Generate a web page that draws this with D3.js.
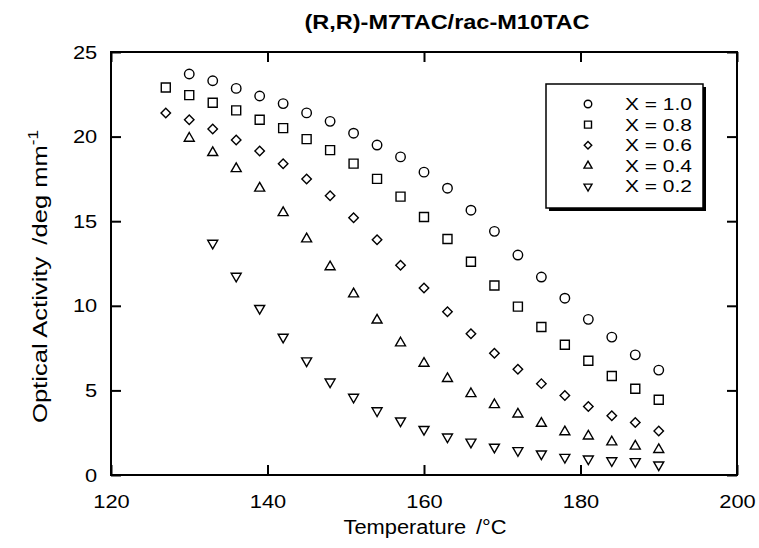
<!DOCTYPE html>
<html lang="en">
  <head>
    <meta charset="UTF-8" />
    <title>M7TAC optical activity</title>
    <style>
      body {
        margin: 0;
        background: #fff;
        font-family: "Liberation Sans", Helvetica, Arial, sans-serif;
      }
      svg {
        display: block;
      }
      .tick text {
        font-size: 19px;
        fill: #000;
      }
      .tick line {
        stroke: #000;
        stroke-width: 2;
      }
      .mark {
        fill: #fff;
        stroke: #000;
        stroke-width: 1.4;
      }
    </style>
  </head>
  <body>
    <script src="https://cdn.jsdelivr.net/npm/d3@7"></script>
    <script>
      // temperatures (°C) shared by all series; null = no point measured
      const temperature = [127, 130, 133, 136, 139, 142, 145, 148, 151, 154, 157,
        160, 163, 166, 169, 172, 175, 178, 181, 184, 187, 190];

      const x10 = [null, 23.7, 23.3, 22.85, 22.4, 21.95, 21.4, 20.9, 20.2, 19.5, 18.8,
        17.9, 16.95, 15.65, 14.4, 13.0, 11.7, 10.45, 9.2, 8.15, 7.1, 6.2];
      const x08 = [22.9, 22.45, 22.0, 21.55, 21.0, 20.5, 19.85, 19.2, 18.4, 17.5, 16.45,
        15.25, 13.95, 12.6, 11.2, 9.95, 8.75, 7.7, 6.75, 5.85, 5.1, 4.45];
      const x06 = [21.4, 21.0, 20.45, 19.8, 19.15, 18.4, 17.5, 16.5, 15.2, 13.9, 12.4,
        11.05, 9.65, 8.35, 7.2, 6.25, 5.4, 4.7, 4.05, 3.5, 3.1, 2.6];
      const x04 = [null, 19.9, 19.05, 18.1, 16.95, 15.5, 13.95, 12.3, 10.7, 9.15, 7.8,
        6.6, 5.7, 4.8, 4.15, 3.6, 3.05, 2.55, 2.3, 1.95, 1.7, 1.5];
      const x02 = [null, null, 13.7, 11.75, 9.85, 8.15, 6.75, 5.5, 4.6, 3.8, 3.2,
        2.7, 2.25, 1.95, 1.65, 1.45, 1.25, 1.05, 0.95, 0.85, 0.8, 0.6];

      const seriesNames = ["X = 1.0", "X = 0.8", "X = 0.6", "X = 0.4", "X = 0.2"];
      const seriesValues = [x10, x08, x06, x04, x02];
      const seriesShapes = ["circle", "square", "diamond", "up", "down"];

      const xTicks = [120, 140, 160, 180, 200];
      const yTicks = [0, 5, 10, 15, 20, 25];

      const width = 759;
      const height = 548;
      const plotLeft = 111, plotRight = 737, plotTop = 52, plotBottom = 475;
      const tickLen = 10;
      const stretch = 1.15; // the original lettering is wider than Arial

      const svg = d3.select("body").append("svg")
        .attr("width", width)
        .attr("height", height);

      const x = d3.scaleLinear().domain([120, 200]).range([plotLeft, plotRight]);
      const y = d3.scaleLinear().domain([0, 25]).range([plotBottom, plotTop]);

      // symbol path for each marker kind, s = nominal size in px
      function markPath(kind, s) {
        if (kind === "circle") return d3.symbol(d3.symbolCircle, Math.PI * (s / 2) * (s / 2))();
        if (kind === "square") return d3.symbol(d3.symbolSquare, s * s)();
        if (kind === "diamond") return d3.symbol(d3.symbolSquare, (s * s) / 2)();
        return d3.symbol(d3.symbolTriangle, (Math.sqrt(3) / 4) * s * s)();
      }
      function markRotate(kind) {
        if (kind === "diamond") return 45;
        if (kind === "down") return 180;
        return 0;
      }

      // axes, ticks pointing inward on all four sides
      const gx = svg.append("g")
        .attr("transform", `translate(0,${plotBottom})`)
        .call(d3.axisBottom(x).tickValues(xTicks).tickSizeInner(-tickLen).tickSizeOuter(0).tickPadding(20));
      gx.selectAll(".tick text")
        .attr("transform", `scale(${stretch},1)`);

      const gy = svg.append("g")
        .attr("transform", `translate(${plotLeft},0)`)
        .call(d3.axisLeft(y).tickValues(yTicks).tickSizeInner(-tickLen).tickSizeOuter(0).tickPadding(12));
      gy.selectAll(".tick text")
        .attr("transform", `scale(${stretch},1)`);

      svg.append("g")
        .attr("transform", `translate(0,${plotTop})`)
        .call(d3.axisTop(x).tickValues(xTicks).tickSizeInner(-tickLen).tickSizeOuter(0).tickFormat(""));
      svg.append("g")
        .attr("transform", `translate(${plotRight},0)`)
        .call(d3.axisRight(y).tickValues(yTicks).tickSizeInner(-tickLen).tickSizeOuter(0).tickFormat(""));

      svg.selectAll(".domain").remove();

      svg.append("rect")
        .attr("x", plotLeft)
        .attr("y", plotTop)
        .attr("width", plotRight - plotLeft)
        .attr("height", plotBottom - plotTop)
        .attr("fill", "none")
        .attr("stroke", "#000")
        .attr("stroke-width", 2);

      // data points
      seriesValues.forEach((vals, i) => {
        const pts = temperature.map((t, j) => [t, vals[j]]).filter(d => d[1] != null);
        const kind = seriesShapes[i];
        const size = kind === "circle" ? 9.5 : kind === "square" ? 9 : kind === "diamond" ? 9.5 : 10;
        svg.append("g")
          .selectAll("path")
          .data(pts)
          .join("path")
          .attr("class", "mark")
          .attr("d", markPath(kind, size))
          .attr("transform", d => `translate(${x(d[0])},${y(d[1])}) rotate(${markRotate(kind)})`);
      });

      // legend box with drop shadow
      const lg = svg.append("g").attr("transform", "translate(546,84)");
      const boxW = 157, boxH = 124;
      lg.append("rect")
        .attr("x", 3).attr("y", 3)
        .attr("width", boxW).attr("height", boxH)
        .attr("fill", "#000");
      lg.append("rect")
        .attr("width", boxW).attr("height", boxH)
        .attr("fill", "#fff")
        .attr("stroke", "#000")
        .attr("stroke-width", 1.5);

      seriesNames.forEach((name, i) => {
        const kind = seriesShapes[i];
        const cy = 20 + i * 20.6;
        const size = kind === "circle" ? 7.5 : kind === "square" ? 7 : kind === "diamond" ? 7.5 : 8;
        lg.append("path")
          .attr("class", "mark")
          .attr("stroke-width", 1.1)
          .attr("d", markPath(kind, size))
          .attr("transform", `translate(42,${cy}) rotate(${markRotate(kind)})`);
        lg.append("text")
          .attr("x", 79)
          .attr("y", cy + 6)
          .attr("font-size", 17)
          .attr("textLength", 67)
          .attr("lengthAdjust", "spacingAndGlyphs")
          .text(name);
      });

      // title and axis titles
      svg.append("text")
        .attr("x", 447)
        .attr("y", 29)
        .attr("text-anchor", "middle")
        .attr("font-size", 20)
        .attr("font-weight", "bold")
        .attr("textLength", 285)
        .attr("lengthAdjust", "spacingAndGlyphs")
        .text("(R,R)-M7TAC/rac-M10TAC");

      const xt = svg.append("text")
        .attr("x", 425)
        .attr("y", 534)
        .attr("text-anchor", "middle")
        .attr("font-size", 20)
        .attr("textLength", 163)
        .attr("lengthAdjust", "spacingAndGlyphs");
      xt.append("tspan").text("Temperature");
      xt.append("tspan").attr("dx", 9).text("/°C");

      const yt = svg.append("text")
        .attr("transform", "translate(47,423) rotate(-90)")
        .attr("font-size", 21)
        .attr("textLength", 293)
        .attr("lengthAdjust", "spacingAndGlyphs");
      yt.append("tspan").text("Optical Activity");
      yt.append("tspan").attr("dx", 10).text("/deg mm");
      yt.append("tspan").attr("dy", -9).attr("font-size", 14).text("-1");
    </script>
  </body>
</html>
